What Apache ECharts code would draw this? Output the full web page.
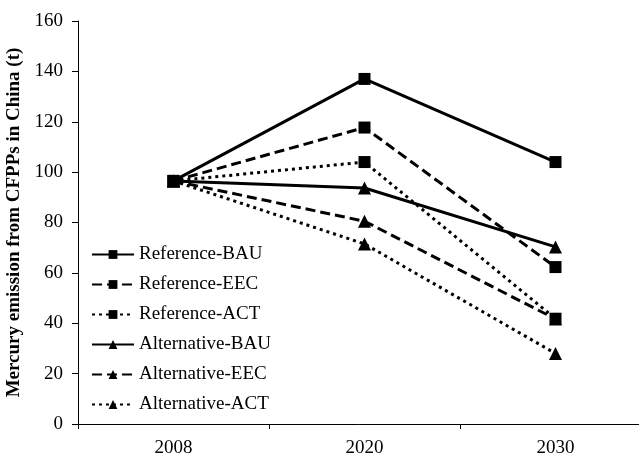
<!DOCTYPE html>
<html>
<head>
<meta charset="utf-8">
<script src="https://cdn.jsdelivr.net/npm/echarts@6/dist/echarts.min.js"></script>
<style>
  html, body { margin: 0; padding: 0; background: #fff; }
  #chart { width: 639px; height: 455px; }
</style>
</head>
<body>
<div id="chart"></div>
<script>
// years on the x axis
const years = ['2008', '2020', '2030'];

// mercury emission (t) per scenario
const refBAU = [96.5, 137, 104];
const refEEC = [96.5, 117.7, 62.3];
const refACT = [96.5, 104, 41.8];
const altBAU = [96.5, 93.7, 70.3];
const altEEC = [96.5, 80.5, 41.7];
const altACT = [96.5, 71.5, 28];

const seriesNames = ['Reference-BAU', 'Reference-EEC', 'Reference-ACT',
  'Alternative-BAU', 'Alternative-EEC', 'Alternative-ACT'];
const seriesData = [refBAU, refEEC, refACT, altBAU, altEEC, altACT];

const SOLID = 'solid';
const DASH = [10, 5];
const DOT = [3, 4];
const dashes = [SOLID, DASH, DOT, SOLID, DASH, DOT];
const symbols = ['rect', 'rect', 'rect', 'triangle', 'triangle', 'triangle'];

const font = '"Liberation Serif", "Times New Roman", serif';

const chart = echarts.init(document.getElementById('chart'), null, { renderer: 'canvas' });

const series = seriesData.map((d, i) => ({
  name: seriesNames[i],
  type: 'line',
  data: d,
  symbol: symbols[i],
  symbolSize: symbols[i] === 'rect' ? 12 : 13,
  showAllSymbol: true,
  z: 10 - i,
  lineStyle: { color: '#000', width: 3, type: dashes[i] },
  itemStyle: { color: '#000', borderWidth: 0 },
  emphasis: { disabled: true },
  animation: false
}));

chart.setOption({
  backgroundColor: '#fff',
  animation: false,
  grid: {
    left: 78, top: 21, width: 573, height: 403,
    containLabel: false,
    outerBoundsMode: 'none'
  },
  legend: {
    orient: 'vertical',
    left: 86,
    top: 240,
    itemWidth: 42,
    itemHeight: 11,
    itemGap: 11,
    textStyle: { fontFamily: font, fontSize: 19, color: '#000' },
    data: seriesNames
  },
  xAxis: {
    type: 'category',
    data: years,
    boundaryGap: true,
    axisLine: { lineStyle: { color: '#000', width: 1 } },
    axisTick: { show: true, length: 5, alignWithLabel: false, lineStyle: { color: '#000' } },
    axisLabel: { fontFamily: font, fontSize: 19, color: '#000', margin: 15 },
    splitLine: { show: false }
  },
  yAxis: {
    type: 'value',
    min: 0,
    max: 160,
    interval: 20,
    name: 'Mercury emission from CFPPs in China (t)',
    nameLocation: 'middle',
    nameGap: 45,
    nameTextStyle: { fontFamily: font, fontSize: 19, fontWeight: 'bold', color: '#000' },
    axisLine: { show: true, lineStyle: { color: '#000', width: 1 } },
    axisTick: { show: true, length: 6, lineStyle: { color: '#000' } },
    axisLabel: { fontFamily: font, fontSize: 19, color: '#000', margin: 15 },
    splitLine: { show: false }
  },
  series: series
});
</script>
</body>
</html>
